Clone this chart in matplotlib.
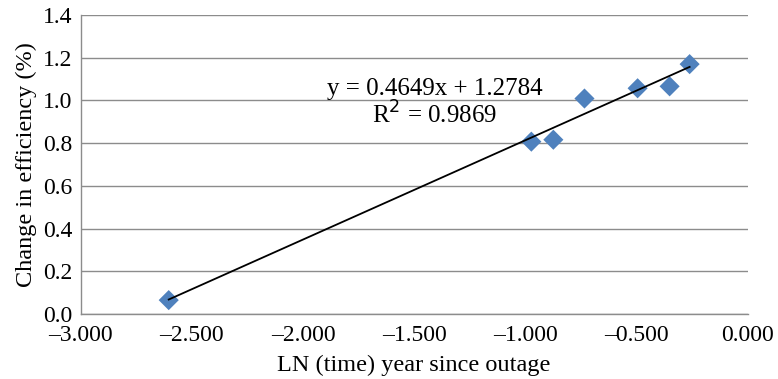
import matplotlib
matplotlib.use("Agg")
import matplotlib.pyplot as plt
import numpy as np

# Natural log of years since outage vs. change in efficiency
ln_time = [-2.604, -0.973, -0.874, -0.734, -0.495, -0.351, -0.261]
efficiency_change = [0.065, 0.807, 0.816, 1.009, 1.057, 1.066, 1.17]

slope = 0.4649
intercept = 1.2784
r_squared = 0.9869

x_ticks = [-3.0, -2.5, -2.0, -1.5, -1.0, -0.5, 0.0]
y_ticks = [0.0, 0.2, 0.4, 0.6, 0.8, 1.0, 1.2, 1.4]

plt.rcParams["font.family"] = ["Liberation Serif", "DejaVu Serif"]

fig = plt.figure(figsize=(7.78, 3.79), dpi=100)
ax = fig.add_axes([0.1037, 0.1715, 0.961 - 0.1037, 0.9604 - 0.1715])

ax.set_xlim(-3.0, 0.0)
ax.set_ylim(0.0, 1.4)
ax.set_xticks(x_ticks)
ax.set_yticks(y_ticks)
ax.set_xticklabels([f"{v:.3f}".replace("-", "\u2013") for v in x_ticks])
ax.set_yticklabels([f"{v:.1f}" for v in y_ticks])
ax.tick_params(length=0, labelsize=17, colors="black")
ax.tick_params(axis="x", pad=8)
ax.tick_params(axis="y", pad=6)

ax.grid(axis="y", color="#8c8c8c", linewidth=1.0)
ax.set_axisbelow(True)
for side in ("top", "right"):
    ax.spines[side].set_visible(False)
for side in ("left", "bottom"):
    ax.spines[side].set_color("#8c8c8c")
    ax.spines[side].set_linewidth(1.0)

# Linear trend line over the range of the data
xs = np.array([min(ln_time), max(ln_time)])
ax.plot(xs, slope * xs + intercept, color="black", linewidth=1.3, zorder=3)

ax.scatter(ln_time, efficiency_change, marker="D", s=105, color="#4F81BD",
           edgecolors="none", zorder=2)

ax.text(0.531, 0.753, f"y = {slope:.4f}x + {intercept:.4f}", transform=ax.transAxes,
        ha="center", va="center", fontsize=18)
ax.text(0.531, 0.664, f"R$^2$ = {r_squared:.4f}", transform=ax.transAxes,
        ha="center", va="center", fontsize=18)

ax.set_xlabel("LN (time) year since outage", fontsize=17.5, labelpad=6)
ax.set_ylabel("Change in efficiency (%)", fontsize=17.5, labelpad=4)

fig.savefig("out.png", dpi=100)
